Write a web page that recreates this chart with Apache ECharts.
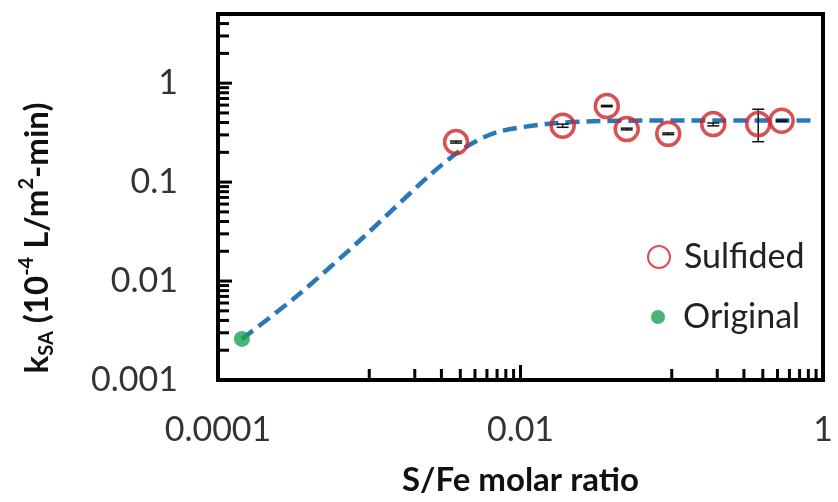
<!DOCTYPE html>
<html>
<head>
<meta charset="utf-8">
<script src="https://cdn.jsdelivr.net/npm/echarts@6/dist/echarts.min.js"></script>
<style>
  html, body { margin: 0; padding: 0; background: #fff; }
  #chart { width: 838px; height: 502px; }
</style>
</head>
<body>
<div id="chart"></div>
<script>
// data
var sulfidedX = [0.00375, 0.0190, 0.0372, 0.0504, 0.0948, 0.188, 0.373, 0.533]
var sulfidedY = [0.254, 0.372, 0.587, 0.344, 0.308, 0.386, 0.386, 0.417]
var errLow = [0.248, 0.358, 0.578, 0.337, 0.302, 0.370, 0.256, 0.410]
var errHigh = [0.260, 0.386, 0.596, 0.351, 0.314, 0.396, 0.545, 0.424]

var originalX = [0.000144]
var originalY = [0.0026]

// dashed fit curve
var fitX = [0.000144, 0.000331, 0.000914, 0.00252, 0.00419, 0.00697, 0.0149, 0.0336, 0.154, 0.87]
var fitY = [0.0026, 0.00702, 0.0277, 0.118, 0.218, 0.319, 0.386, 0.414, 0.42, 0.42]

// axes
var xMin = 0.0001, xMax = 1
var yMin = 0.001, yMax = 5
var xLabelValues = [0.0001, 0.01, 1]
var xLabels = ['0.0001', '0.01', '1']
var yLabelValues = [0.001, 0.01, 0.1, 1]
var yLabels = ['0.001', '0.01', '0.1', '1']

// Excel style ticks
var xMajorTicks = [0.0001, 0.01, 1]
var xMinorTicks = [0.001, 0.002, 0.003, 0.004, 0.005, 0.006, 0.007, 0.008, 0.009,
                   0.1, 0.2, 0.3, 0.4, 0.5, 0.6, 0.7, 0.8, 0.9]
var yMajorTicks = [0.001, 0.01, 0.1, 1]
var yMinorSteps = [2, 3, 4, 5, 6, 7, 8, 9]
var yMinorTicks = []
yMajorTicks.forEach(function (d) {
    yMinorSteps.forEach(function (m) {
        if (d * m < yMax) yMinorTicks.push(d * m)
    })
})

function pickLabel(v, values, texts) {
    for (var i = 0; i < values.length; i++) {
        if (Math.abs(Math.log10(v) - Math.log10(values[i])) < 0.01) return texts[i]
    }
    return ''
}

function zip(a, b) {
    return a.map(function (v, i) { return [v, b[i]] })
}

var font = 'Lato, "Liberation Sans", sans-serif'
var red = '#d0242b'
var green = '#1ba351'
var blue = '#2a78b5'

function tickSeries(data, isX, len) {
    return {
        type: 'custom',
        silent: true,
        clip: false,
        z: 5,
        data: data.map(function (v) { return isX ? [v, yMin] : [xMin, v] }),
        renderItem: function (params, api) {
            var p = api.coord([api.value(0), api.value(1)])
            return {
                type: 'line',
                shape: isX
                    ? { x1: p[0], y1: p[1], x2: p[0], y2: p[1] - len }
                    : { x1: p[0], y1: p[1], x2: p[0] + len, y2: p[1] },
                style: { stroke: '#000', lineWidth: 3 }
            }
        }
    }
}

var myChart = echarts.init(document.getElementById('chart'))

var option = {
    animation: false,
    backgroundColor: '#fff',
    grid: {
        left: 218, right: 15, top: 14, bottom: 117,
        show: true, borderColor: '#000', borderWidth: 4
    },
    legend: [
        {
            data: ['Sulfided'], orient: 'vertical', left: 647, top: 240, padding: 0,
            itemWidth: 22, itemHeight: 22,
            textStyle: { fontFamily: font, fontSize: 34, color: '#222', padding: [0, 0, 0, 9] }
        },
        {
            data: ['Original'], orient: 'vertical', left: 651, top: 300, padding: 0,
            itemWidth: 14, itemHeight: 14,
            textStyle: { fontFamily: font, fontSize: 34, color: '#222', padding: [0, 0, 0, 13] }
        }
    ],
    xAxis: {
        type: 'log', min: xMin, max: xMax, logBase: 10,
        axisLine: { show: true, lineStyle: { color: '#000', width: 4 } },
        axisTick: { show: false },
        splitLine: { show: false },
        axisLabel: {
            margin: 33, fontFamily: font, fontSize: 34, color: '#333',
            formatter: function (v) { return pickLabel(v, xLabelValues, xLabels) }
        },
        name: 'S/Fe molar ratio', nameLocation: 'middle', nameGap: 84,
        nameTextStyle: { fontFamily: font, fontSize: 33, fontWeight: 'bold', color: '#111' }
    },
    yAxis: {
        type: 'log', min: yMin, max: yMax, logBase: 10,
        axisLine: { show: true, lineStyle: { color: '#000', width: 4 } },
        axisTick: { show: false },
        splitLine: { show: false },
        axisLabel: {
            margin: 40, fontFamily: font, fontSize: 34, color: '#333',
            formatter: function (v) { return pickLabel(v, yLabelValues, yLabels) }
        }
    },
    graphic: [{
        type: 'text',
        x: 37, y: 238,
        rotation: Math.PI / 2,
        style: {
            text: '{n|k}{sub|SA}{n| (10}{sup|-4}{n| L/m}{sup|2}{n|-min)}',
            align: 'center',
            verticalAlign: 'middle',
            fill: '#111',
            rich: {
                n: { fontFamily: font, fontSize: 33, fontWeight: 'bold', lineHeight: 40, verticalAlign: 'middle' },
                sup: { fontFamily: font, fontSize: 20, fontWeight: 'bold', lineHeight: 20, verticalAlign: 'top' },
                sub: { fontFamily: font, fontSize: 20, fontWeight: 'bold', lineHeight: 20, verticalAlign: 'bottom' }
            }
        }
    }],
    series: [
        tickSeries(xMajorTicks, true, 15),
        tickSeries(xMinorTicks, true, 11),
        tickSeries(yMajorTicks, false, 14),
        tickSeries(yMinorTicks, false, 11),
        {
            name: 'fit',
            type: 'line',
            data: zip(fitX, fitY),
            smooth: 0.3,
            showSymbol: false,
            lineStyle: { color: blue, width: 4.5, type: [14, 7] },
            z: 2
        },
        {
            name: 'errors',
            type: 'custom',
            silent: true,
            z: 3,
            data: sulfidedX.map(function (x, i) { return [x, errLow[i], errHigh[i]] }),
            encode: { x: 0, y: [1, 2] },
            renderItem: function (params, api) {
                var lo = api.coord([api.value(0), api.value(1)])
                var hi = api.coord([api.value(0), api.value(2)])
                var w = 6
                var st = { stroke: '#111', lineWidth: 1.5 }
                return {
                    type: 'group',
                    children: [
                        { type: 'line', shape: { x1: lo[0], y1: lo[1], x2: hi[0], y2: hi[1] }, style: st },
                        { type: 'line', shape: { x1: lo[0] - w, y1: lo[1], x2: lo[0] + w, y2: lo[1] }, style: st },
                        { type: 'line', shape: { x1: hi[0] - w, y1: hi[1], x2: hi[0] + w, y2: hi[1] }, style: st }
                    ]
                }
            }
        },
        {
            name: 'Sulfided',
            type: 'scatter',
            data: zip(sulfidedX, sulfidedY),
            symbol: 'circle',
            symbolSize: 23,
            itemStyle: { color: 'rgba(255,255,255,0)', borderColor: red, borderWidth: 3.5 },
            z: 4
        },
        {
            name: 'Original',
            type: 'scatter',
            data: zip(originalX, originalY),
            symbol: 'circle',
            symbolSize: 16,
            itemStyle: { color: green },
            z: 4
        }
    ]
}

myChart.setOption(option)
window.addEventListener('resize', function () {
    myChart.resize()
})
</script>
</body>
</html>
